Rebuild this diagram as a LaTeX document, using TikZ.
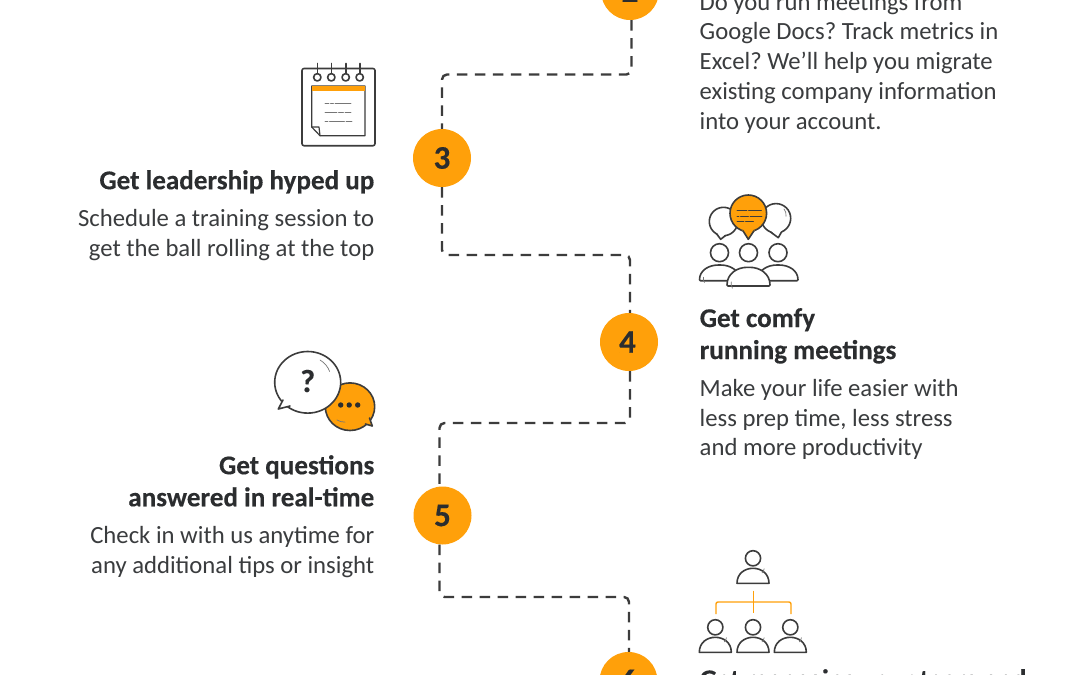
\documentclass[tikz,border=0pt]{standalone}
\usepackage{fontspec}
\setmainfont{Carlito}
\newfontfamily\hfont[FakeStretch=1,FakeBold=0.3]{Carlito Bold}
\frenchspacing
\definecolor{ora}{HTML}{FFA00A}
\definecolor{ink}{HTML}{2B2D2F}
\definecolor{txt}{HTML}{3A3C3E}
\definecolor{lin}{HTML}{3C3C3C}
\tikzset{
  numc/.style={circle,fill=ora,minimum size=58pt,inner sep=0,font=\hfont\fontsize{33}{33}\selectfont,text=ink},
  flow/.style={draw=lin,line width=2.4pt,dash pattern=on 10.5pt off 7.5pt,rounded corners=5pt},
  head/.style={inner sep=0,font=\hfont\fontsize{27.1}{32}\selectfont,text=ink},
  desc/.style={inner sep=0,font=\fontsize{24.7}{29.7}\selectfont,text=txt},
  ic/.style={draw=lin,line width=1.6pt,line join=round,line cap=round},
  thinl/.style={draw=lin!70,line width=.7pt,line cap=round},
  pics/dome/.style n args={3}{code={
    \draw[ic,fill=white] (0,#3) circle (9);
    \draw[ic,fill=white,rounded corners=1pt] (-#1,#2) .. controls (-#1,#2*.35) and (-#1*.55,0) .. (0,0) .. controls (#1*.55,0) and (#1,#2*.35) .. (#1,#2) -- cycle;
    \draw[thinl] (-#1*.8,#2*.78) arc (190:150:#2*.5);
  }},
  pics/person/.style={code={
    \draw[ic,fill=white] (0,-10) circle (7.6);
    \draw[ic,fill=white] (-16,15) .. controls (-16,5) and (-8,0) .. (0,0) .. controls (8,0) and (16,5) .. (16,15) -- cycle;
    \draw[thinl] (9,4.5) arc (50:5:6);
  }}
}
\begin{document}
\begin{tikzpicture}[x=1pt,y=-1pt]
\useasboundingbox (0,0) rectangle (1080,675);
\clip (0,0) rectangle (1080,675);
\fill[white] (0,0) rectangle (1080,675);
% step circles
\node[numc] (c2) at (630,-9) {2};
\node[numc] (c3) at (442,158) {3};
\node[numc] (c4) at (629,342) {\kern-3pt 4};
\node[numc] (c5) at (442.5,515.5) {5};
\node[numc] (c6) at (628.5,681) {6};
% corner helpers
\coordinate (m23) at (540,74.5);
\coordinate (m34) at (540,255);
\coordinate (m45) at (540,423);
\coordinate (m56) at (540,597);
% connectors
\draw[flow] ([xshift=1.5pt]c2.south) |- (m23) -| (c3.north);
\draw[flow] (c3.south) |- (m34) -| ([xshift=1pt]c4.north);
\draw[flow] ([xshift=1pt]c4.south) |- (m45) -| ([xshift=-3pt]c5.north);
\draw[flow] ([xshift=-3pt]c5.south) |- (m56) -| ([xshift=.5pt]c6.north);
% texts
\node[desc,anchor=north west,align=left] (t2) at (699.5,-7) {Do you run meetings from\\Google Docs? Track metrics in\\Excel? We’ll help you migrate\\existing company information\\into your account.};
\node[head,anchor=north east,align=right] (h3) at (374.5,170) {Get leadership hyped up};
\node[desc,anchor=north east,align=right] (t3) at (374.5,209) {Schedule a training session to\\get the ball rolling at the top};
\node[head,anchor=north west,align=left] (h4) at (699.5,308) {Get comfy\\running meetings};
\node[desc,anchor=north west,align=left] (t4) at (699.5,379) {Make your life easier with\\less prep time, less stress\\and more productivity};
\node[head,anchor=north east,align=right] (h5) at (374.5,455) {Get questions\\answered in real-time};
\node[desc,anchor=north east,align=right] (t5) at (374.5,526) {Check in with us anytime for\\any additional tips or insight};
\node[head,anchor=north west,align=left] (h6) at (699.5,669) {Get managing your team and};
% notepad icon
\draw[ic] (304,68.5) -- (373,68.5) arc (-90:0:2) -- (375,143.7) arc (0:90:2) -- (304,145.7) arc (90:180:2) -- (302,70.5) arc (180:270:2) -- cycle;
\foreach \x in {317.3,331.3,345.7,359.7}{
  \draw[ic] (\x,63.5) -- (\x,73.5);
  \draw[ic,fill=white] (\x,77.3) circle (3.7);
}
\draw[ic,line width=1.2pt,fill=white] (311.7,86) -- (365,86) -- (365,135.7) -- (320,135.7) -- (311.7,127) -- cycle;
\fill[ora] (311.7,85.7) rectangle (365,91);
\draw[ic,line width=1.2pt] (311.7,127) -- (319,127) -- (320,135.7);
\draw[thinl,dash pattern=on 4pt off 1.5pt on 3pt off 1.5pt on 16pt] (325,103.7) -- (352,103.7);
\draw[thinl,dash pattern=on 12pt off 1.5pt on 5pt off 1.5pt on 6pt] (325,112.7) -- (352,112.7);
\draw[thinl,dash pattern=on 3pt off 1.5pt on 15pt off 1.5pt on 6pt] (325,121.7) -- (352,121.7);
% meeting icon
\draw[ic,fill=white] (723.5,221.5) circle (14.2);
\fill[white] (716.6,232) -- (720.7,238.5) -- (726,234) -- cycle;
\draw[ic] (716.4,233.6) -- (720.7,239.3) -- (725.6,235.4);
\draw[ic,fill=white] (776,218.3) circle (14.7);
\fill[white] (771,231) -- (778.3,237.2) -- (782,230) -- cycle;
\draw[ic] (770.5,232) -- (778.3,237.7) -- (781.5,232);
\draw[thinl] (784,209) arc (-40:10:9);
\draw[ic,fill=ora] (748.3,213.3) circle (18.3);
\fill[ora] (742,230) -- (748.3,239) -- (755,230) -- cycle;
\draw[ic] (743,230.8) -- (748.3,239.3) -- (754,230.8);
\draw[thinl,draw=lin,dash pattern=on 10pt off 1.5pt on 13pt] (737,210) -- (762,210);
\draw[thinl,draw=lin,dash pattern=on 2pt off 1.5pt on 8pt off 1.5pt on 13pt] (737,216) -- (762,216);
\draw[thinl,draw=lin,dash pattern=on 7pt off 1.5pt on 8pt] (737,221) -- (754,221);
\pic at (719.5,265) {dome={20}{15.7}{-12.3}};
\pic at (778,265) {dome={20}{15.7}{-12.3}};
\pic at (748.5,267.3) {dome={21.5}{18.7}{-14.6}};
% question icon
\draw[ic,fill=ora] (350,406.7) ellipse (24.7 and 23.8);
\fill[ora] (364,423) -- (372.3,426) -- (369.5,416) -- cycle;
\draw[ic] (365.5,424) -- (372.3,426) -- (369.5,418);
\draw[thinl] (337,420) arc (120:90:16);
\draw[ic,fill=white] (307.7,382.3) ellipse (33 and 30.8);
\fill[white] (284,397) -- (278.3,409) -- (293,405) -- cycle;
\draw[ic] (283,400) -- (278.3,409) -- (290,406);
\draw[thinl] (320,360) arc (-60:-20:22);
\node[inner sep=0,font=\hfont\fontsize{32}{32}\selectfont,text=ink] (q) at (307.7,381) {?};
\foreach \x in {340.7,349.2,357.7}{\fill[ink] (\x,405) circle (2.7);}
% org chart icon
\pic at (753,568.3) {person};
\draw[ora,line width=1.4pt] (753.7,590.7) -- (753.7,613.3);
\draw[ora,line width=1.4pt,rounded corners=2pt] (716,614) -- (716,602) -- (791,602) -- (791,614);
\pic at (715.3,637.3) {person};
\pic at (753,637.3) {person};
\pic at (790.3,637.3) {person};
\end{tikzpicture}
\end{document}
